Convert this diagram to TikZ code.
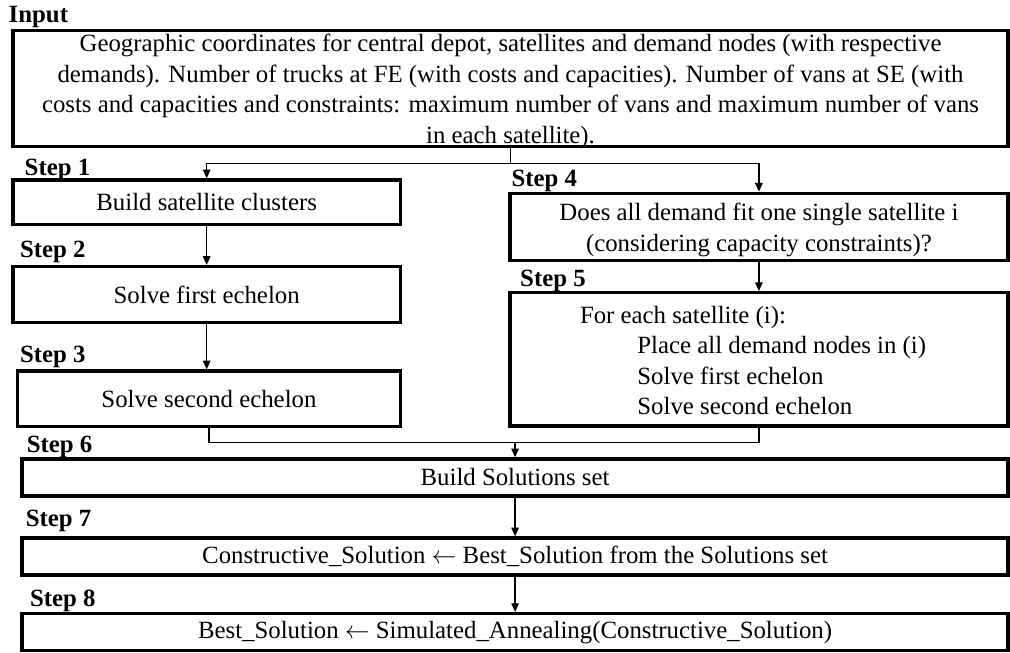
\documentclass[tikz,border=0pt]{standalone}
\usepackage{fontspec}
\setmainfont{Liberation Serif}
\usetikzlibrary{positioning, arrows.meta}

\begin{document}
\begin{tikzpicture}[
                >={Triangle[length=4.2pt, width=3.6pt]},
                font=\fontsize{12}{14.75}\selectfont,
                box/.style={rectangle, draw=black, line width=1.7pt, outer sep=0pt, inner sep=2pt, align=center},
                widebox/.style={box, minimum width=16.76cm, minimum height=0.63cm},
                leftbox/.style={box, minimum width=6.584cm},
                rightbox/.style={box, minimum width=8.47cm},
                steplabel/.style={font=\fontsize{12}{14}\selectfont\bfseries, inner sep=0pt},
                arrow/.style={->, line width=0.65pt, shorten >=0.8pt},
                link/.style={line width=0.65pt}
            ]
            \useasboundingbox (0,0) rectangle (17.17,-11.101);

            % Input
            \node[box, inner ysep=0pt, minimum width=16.915cm, minimum height=1.972cm] (in) at (8.679,-1.5045)
                {\rule{0pt}{10.2pt}Geographic coordinates for central depot, satellites and demand nodes (with respective\\
                 demands). Number of trucks at FE (with costs and capacities). Number of vans at SE (with\\
                 costs and capacities and constraints: maximum number of vans and maximum number of vans\\
                 \smash{in each satellite).}\rule[-1.45pt]{0pt}{0pt}};

            % Left branch
            \node[leftbox, minimum height=0.757cm, below=0.57cm of in.south west, anchor=north west] (s1) {Build satellite clusters};
            \node[leftbox, minimum height=0.955cm, below=0.714cm of s1] (s2) {Solve first echelon};
            \node[box, minimum width=6.506cm, minimum height=0.947cm, below=0.821cm of s2.south east, anchor=north east] (s3) {Solve second echelon};

            % Right branch
            \node[rightbox, inner ysep=0pt, minimum height=1.146cm, below=0.796cm of in.south east, anchor=north east] (s4)
                {\rule{0pt}{13.2pt}Does all demand fit one single satellite i\\
                 (considering capacity constraints)?\rule[-4.5pt]{0pt}{0pt}};
            \node[rightbox, inner ysep=0pt, align=left, minimum height=2.266cm, below=0.544cm of s4.south east, anchor=north east] (s5)
                {\rule{0pt}{14.6pt}For each satellite (i):\\
                 \hspace*{0.976cm}Place all demand nodes in (i)\rule{0.2cm}{0pt}\\
                 \hspace*{0.976cm}Solve first echelon\\
                 \hspace*{0.976cm}Solve second echelon\rule[-5.4pt]{0pt}{0pt}};

            % Bottom chain
            \node[widebox, below=0.56cm of s5.south east, anchor=north east] (s6) {Build Solutions set};
            \node[widebox, below=0.714cm of s6] (s7) {Constructive\_Solution $\leftarrow$ Best\_Solution from the Solutions set};
            \node[widebox, below=0.655cm of s7] (s8) {Best\_Solution $\leftarrow$ Simulated\_Annealing(Constructive\_Solution)};

            % Labels
            \node[steplabel, above right=0.133cm and -0.08cm of in.north west, anchor=base west] (lin) {Input};
            \node[steplabel, above right=0.085cm and 0.192cm of s1.north west, anchor=base west] (l1) {Step 1};
            \node[steplabel, above right=0.156cm and 0.112cm of s2.north west, anchor=base west] (l2) {Step 2};
            \node[steplabel, above right=0.141cm and 0.034cm of s3.north west, anchor=base west] (l3) {Step 3};
            \node[steplabel, above right=0.112cm and 0.024cm of s4.north west, anchor=base west] (l4) {Step 4};
            \node[steplabel, above right=0.102cm and 0.17cm of s5.north west, anchor=base west] (l5) {Step 5};
            \node[steplabel, above right=0.107cm and 0.073cm of s6.north west, anchor=base west] (l6) {Step 6};
            \node[steplabel, above right=0.192cm and 0.056cm of s7.north west, anchor=base west] (l7) {Step 7};
            \node[steplabel, above right=0.124cm and 0.129cm of s8.north west, anchor=base west] (l8) {Step 8};

            % Connectors
            \coordinate[below=0.286cm of in.south] (split);
            \coordinate[above=0.284cm of s6.north] (merge);
            \draw[arrow] (in.south) -- (split) -| (s1.north);
            \draw[arrow] (split) -| (s4.north);
            \draw[arrow] (s1) -- (s2);
            \draw[arrow] (s2.south) -- (s2.south |- s3.north);
            \draw[arrow] (s4.south) -- (s4.south |- s5.north);
            \draw[link] (s3.south) |- (merge);
            \draw[link] (s5.south) |- (merge);
            \draw[arrow] (merge) -- (s6.north);
            \draw[arrow] (s6) -- (s7);
            \draw[arrow] (s7) -- (s8);

        \end{tikzpicture}
\end{document}
